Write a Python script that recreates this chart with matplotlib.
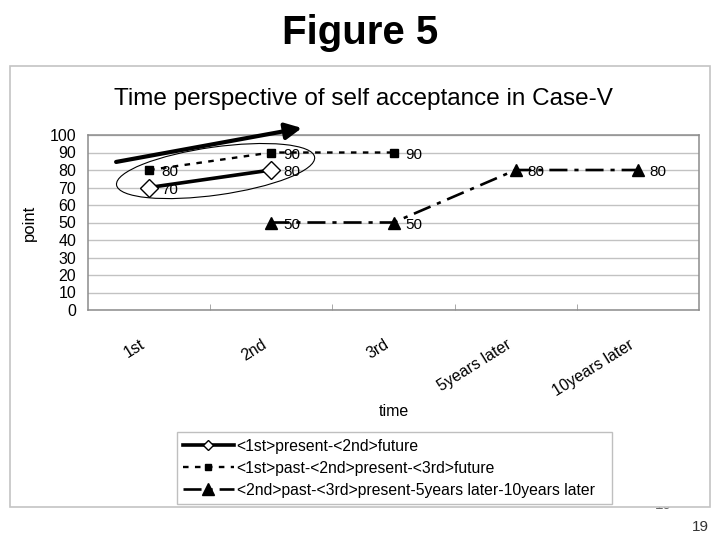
import numpy as np
import matplotlib
matplotlib.use("Agg")
import matplotlib.pyplot as plt
import matplotlib.transforms as mtransforms
from matplotlib.patches import Ellipse, Rectangle

plt.rcParams["font.family"] = ["Liberation Sans", "DejaVu Sans"]
plt.rcParams["lines.scale_dashes"] = False

# data
categories = ["1st", "2nd", "3rd", "5years later", "10years later"]
present_future = [70, 80, np.nan, np.nan, np.nan]
past_present_future = [80, 90, 90, np.nan, np.nan]
past_present_later = [np.nan, 50, 50, 80, 80]
series_names = [
    "<1st>present-<2nd>future",
    "<1st>past-<2nd>present-<3rd>future",
    "<2nd>past-<3rd>present-5years later-10years later",
]
yticks = list(range(0, 101, 10))

fig = plt.figure(figsize=(7.2, 5.4), dpi=100)

# outer chart frame (white, grey border) and the page number hidden under it
fig.text(663 / 720, 1 - 498 / 540, "19", fontsize=11, color="#666666",
         ha="center", va="top", zorder=0.1)
frame = Rectangle((9.5 / 720, 1 - 507 / 540), 700.5 / 720, 441 / 540,
                  transform=fig.transFigure, facecolor="white",
                  edgecolor="#c4c4c4", lw=1.2, zorder=0.5)
fig.patches.append(frame)
fig.text(700 / 720, 1 - 527 / 540, "19", fontsize=11, color="#333333",
         ha="center", va="center")

fig.text(0.5, 1 - 33 / 540, "Figure 5", fontsize=29, fontweight="bold",
         ha="center", va="center")
fig.text(363 / 720, 1 - 105 / 540,
         "Time perspective of self acceptance in Case-V", fontsize=17.5,
         ha="center", va="baseline")

ax = fig.add_axes([88 / 720, 1 - 310 / 540, 611 / 720, 175 / 540], zorder=1)
x = np.arange(len(categories))

l1, = ax.plot(x, present_future, color="black", lw=2.6, marker="D",
              markersize=9, markerfacecolor="white", markeredgecolor="black",
              markeredgewidth=1.0, zorder=4)
l2, = ax.plot(x, past_present_future, color="black", lw=1.7,
              linestyle=(0, (4, 4.6)), marker="s", markersize=5.5,
              zorder=3)
l3, = ax.plot(x, past_present_later, color="black", lw=1.9,
              linestyle=(0, (13, 5, 3, 5)), marker="^", markersize=8,
              zorder=3)

# data labels
for series in (present_future, past_present_future, past_present_later):
    for i, v in enumerate(series):
        if not np.isnan(v):
            ax.annotate(f"{v:.0f}", (i, v), xytext=(8.5, -1.5),
                        textcoords="offset points", ha="left", va="center",
                        fontsize=11, zorder=5)

ax.set_xlim(-0.5, len(categories) - 0.5)
ax.set_ylim(0, 100)
ax.set_yticks(yticks)
ax.tick_params(axis="y", length=0, pad=8.5, labelsize=11.5)
ax.set_xticks(x)
ax.set_xticklabels(categories, rotation=32, ha="right", va="center",
                   rotation_mode="anchor", fontsize=11.5)
ax.tick_params(axis="x", which="major", length=0, pad=24)
shift = mtransforms.ScaledTranslation(-4 / 72, 0, fig.dpi_scale_trans)
for lab in ax.get_xticklabels():
    lab.set_transform(lab.get_transform() + shift)
ax.set_xticks(x[:-1] + 0.5, minor=True)
ax.tick_params(axis="x", which="minor", direction="in", length=4,
               color="#9a9a9a")

ax.grid(axis="y", color="#c2c2c2", lw=1.0)
ax.set_axisbelow(True)
for sp in ax.spines.values():
    sp.set_color("#8c8c8c")
    sp.set_linewidth(1.1)

ax.set_ylabel("point", fontsize=12)
ax.yaxis.set_label_coords((37 - 88) / 611, 0.5)
ax.set_xlabel("time", fontsize=11.5)
ax.xaxis.set_label_coords(0.5, (310 - 404) / 175)

# annotations: ellipse around the first two points and the rising arrow
trans = fig.dpi_scale_trans + mtransforms.ScaledTranslation(0.544, 79.4,
                                                            ax.transData)
ax.add_patch(Ellipse((0, 0), width=2.0, height=0.48, angle=8, fill=False,
                     lw=0.8, edgecolor="black", transform=trans,
                     clip_on=False, zorder=6))
ax.annotate("", xy=(1.25, 104), xytext=(-0.27, 84.6),
            arrowprops=dict(arrowstyle="-|>,head_length=0.7,head_width=0.35",
                            lw=3, color="black", shrinkA=0, shrinkB=0,
                            mutation_scale=14),
            annotation_clip=False, zorder=6)

leg = ax.legend([l1, l2, l3], series_names, loc="lower left",
                bbox_to_anchor=(177 / 720, 1 - 504 / 540, 435 / 720, 74 / 540),
                bbox_transform=fig.transFigure, mode="expand",
                fontsize=11.3, frameon=True, fancybox=False,
                edgecolor="#b0b0b0", handlelength=3.2, handletextpad=0.2,
                borderaxespad=0, labelspacing=0.45, borderpad=0.4)
leg.get_frame().set_linewidth(1.0)
for h, ms in zip(leg.legend_handles, [5, 5, 8]):
    h.set_markersize(ms)

fig.savefig("out.png", dpi=100)
